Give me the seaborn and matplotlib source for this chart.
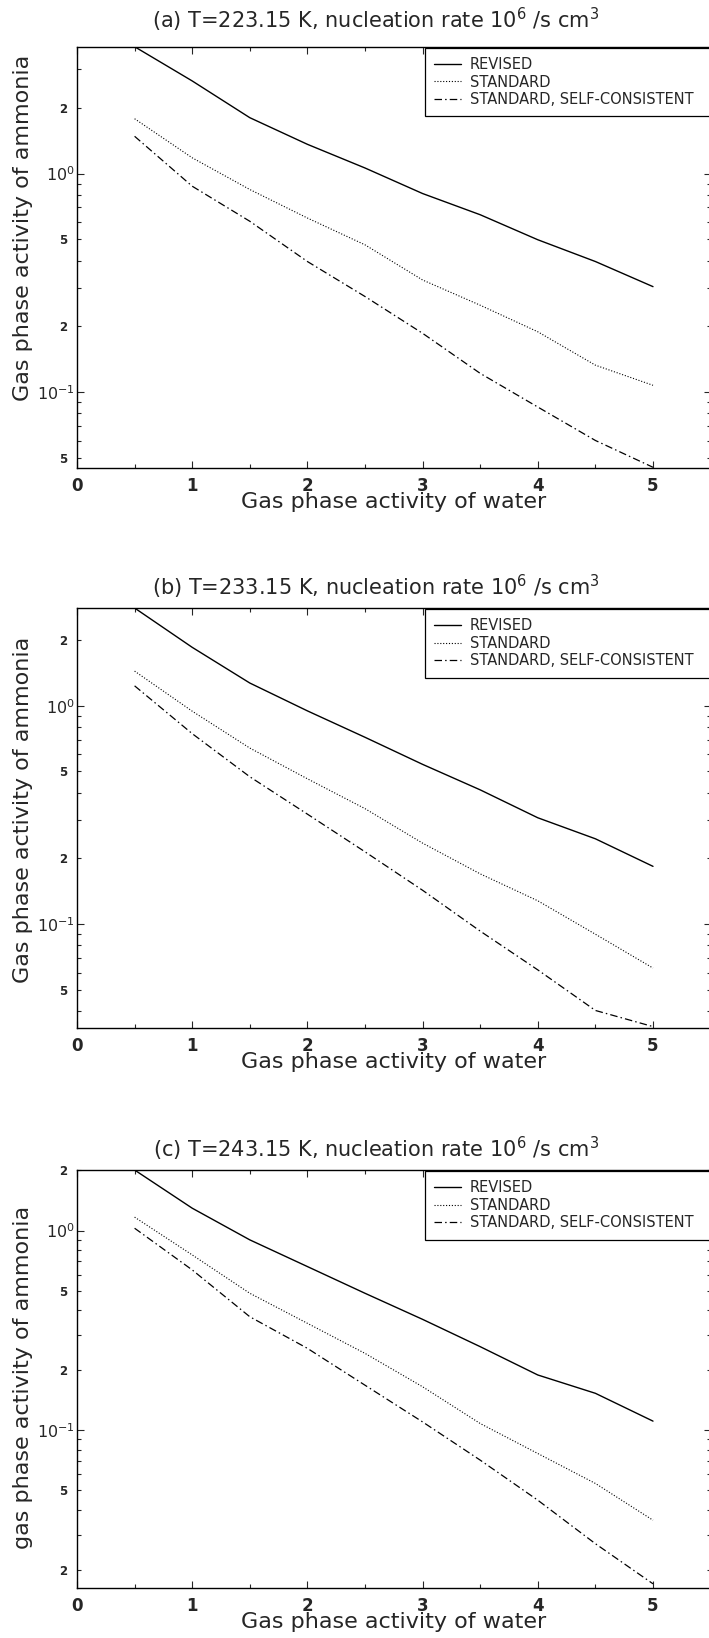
import numpy as np
import pandas as pd
import seaborn as sns
import matplotlib.pyplot as plt
from matplotlib.ticker import LogLocator, FuncFormatter, MultipleLocator

# gas phase activity of water (x) – same grid for every panel
water = [0.5, 1.0, 1.5, 2.0, 2.5, 3.0, 3.5, 4.0, 4.5, 5.0]

# (a) T=223.15 K
revised_a = [3.8, 2.65, 1.80, 1.36, 1.06, 0.81, 0.648, 0.498, 0.396, 0.304]
standard_a = [1.78, 1.18, 0.845, 0.626, 0.472, 0.326, 0.250, 0.189, 0.133, 0.1076]
selfcons_a = [1.48, 0.875, 0.605, 0.396, 0.274, 0.186, 0.122, 0.0856, 0.0602, 0.0454]

# (b) T=233.15 K
revised_b = [2.8, 1.85, 1.27, 0.947, 0.717, 0.539, 0.412, 0.307, 0.246, 0.184]
standard_b = [1.44, 0.944, 0.640, 0.463, 0.338, 0.235, 0.170, 0.128, 0.090, 0.063]
selfcons_b = [1.233, 0.745, 0.473, 0.319, 0.2145, 0.143, 0.093, 0.0618, 0.0403, 0.034]

# (c) T=243.15 K
revised_c = [2.01, 1.294, 0.898, 0.660, 0.485, 0.359, 0.262, 0.189, 0.153, 0.111]
standard_c = [1.167, 0.755, 0.485, 0.343, 0.2425, 0.165, 0.108, 0.0764, 0.0541, 0.0354]
selfcons_c = [1.027, 0.635, 0.370, 0.257, 0.168, 0.110, 0.0708, 0.0446, 0.0270, 0.0170]

titles = [
    r"(a) T=223.15 K, nucleation rate 10$^6$ /s cm$^3$",
    r"(b) T=233.15 K, nucleation rate 10$^6$ /s cm$^3$",
    r"(c) T=243.15 K, nucleation rate 10$^6$ /s cm$^3$",
]
ylabels = ["Gas phase activity of ammonia", "Gas phase activity of ammonia",
           "gas phase activity of ammonia"]
xlabel = "Gas phase activity of water"
ylims = [(0.0452, 3.8), (0.0335, 2.8), (0.0162, 2.01)]
legend_labels = ["REVISED", "STANDARD", "STANDARD, SELF-CONSISTENT"]

sns.set_style("ticks")
plt.rcParams['font.family'] = ['DejaVu Sans']
plt.rcParams['mathtext.fontset'] = 'dejavusans'

W, H = 709, 1638
fig = plt.figure(figsize=(W / 100, H / 100), dpi=100)

# axes boxes in pixels (top, bottom), x from 0 to 5.5 (right spine falls just off the page)
left_px, width_px = 77, 633.6
boxes = [(46.7, 467.7), (608, 1028), (1170, 1588)]
title_pads = [13, 9, 9]
ylab_y = [0.569, 0.519, 0.504]

series = [
    (revised_a, standard_a, selfcons_a),
    (revised_b, standard_b, selfcons_b),
    (revised_c, standard_c, selfcons_c),
]


def minor_fmt(v, pos):
    if v <= 0:
        return ""
    m = int(round(v / 10 ** np.floor(np.log10(v))))
    if m in (2, 5):
        return r"$\mathbf{%d}$" % m
    return ""


def major_fmt(v, pos):
    e = int(round(np.log10(v)))
    return r"$\mathdefault{10^{%d}}$" % e


for i in range(3):
    top, bot = boxes[i]
    ax = fig.add_axes([left_px / W, 1 - bot / H, width_px / W, (bot - top) / H])
    rev, std, sc = series[i]

    sns.lineplot(x=water, y=rev, ax=ax, color="black", lw=1.0, label=legend_labels[0])
    sns.lineplot(x=water, y=std, ax=ax, color="black", lw=0.8,
                 linestyle=(0, (1, 1.6)), label=legend_labels[1])
    sns.lineplot(x=water, y=sc, ax=ax, color="black", lw=0.9,
                 linestyle=(0, (6, 2.5, 1.2, 2.5)), label=legend_labels[2])

    ax.set_yscale("log")
    ax.set_xlim(0, 5.5)
    ax.set_ylim(*ylims[i])
    ax.xaxis.set_major_locator(MultipleLocator(1))
    ax.xaxis.set_minor_locator(MultipleLocator(0.5))
    ax.yaxis.set_major_locator(LogLocator(base=10, numticks=20))
    ax.yaxis.set_minor_locator(LogLocator(base=10, subs=np.arange(2, 10), numticks=20))
    ax.yaxis.set_major_formatter(FuncFormatter(major_fmt))
    ax.yaxis.set_minor_formatter(FuncFormatter(minor_fmt))

    ax.tick_params(which="both", direction="in", top=True, right=True, width=0.8)
    ax.tick_params(which="major", length=5)
    ax.tick_params(which="minor", length=3)
    ax.tick_params(axis="x", labelsize=12, pad=6.5)
    ax.tick_params(axis="y", which="major", labelsize=11.5, pad=1.5)
    ax.tick_params(axis="y", which="minor", labelsize=8.5, pad=6.5)
    plt.setp(ax.get_xticklabels(), fontweight="bold")

    for s in ax.spines.values():
        s.set_linewidth(1.0)
        s.set_color("black")

    ax.set_title(titles[i], fontsize=15, x=0.472, pad=title_pads[i])
    ax.set_xlabel(xlabel, fontsize=16)
    ax.xaxis.set_label_coords(0.5, -0.057)
    ax.set_ylabel(ylabels[i], fontsize=16)
    ax.yaxis.set_label_coords(-0.0694, ylab_y[i])

    x0 = 3.02 / 5.5
    leg = ax.legend(loc="upper left", bbox_to_anchor=(x0, 0.0, 1.02 - x0, 0.998),
                    mode="expand", borderaxespad=0, frameon=True, fancybox=False,
                    framealpha=1, edgecolor="black", fontsize=10.5,
                    handlelength=1.85, handletextpad=0.6, labelspacing=0.17,
                    borderpad=0.65)
    leg.get_frame().set_linewidth(0.9)

fig.savefig("out.png", dpi=100)
